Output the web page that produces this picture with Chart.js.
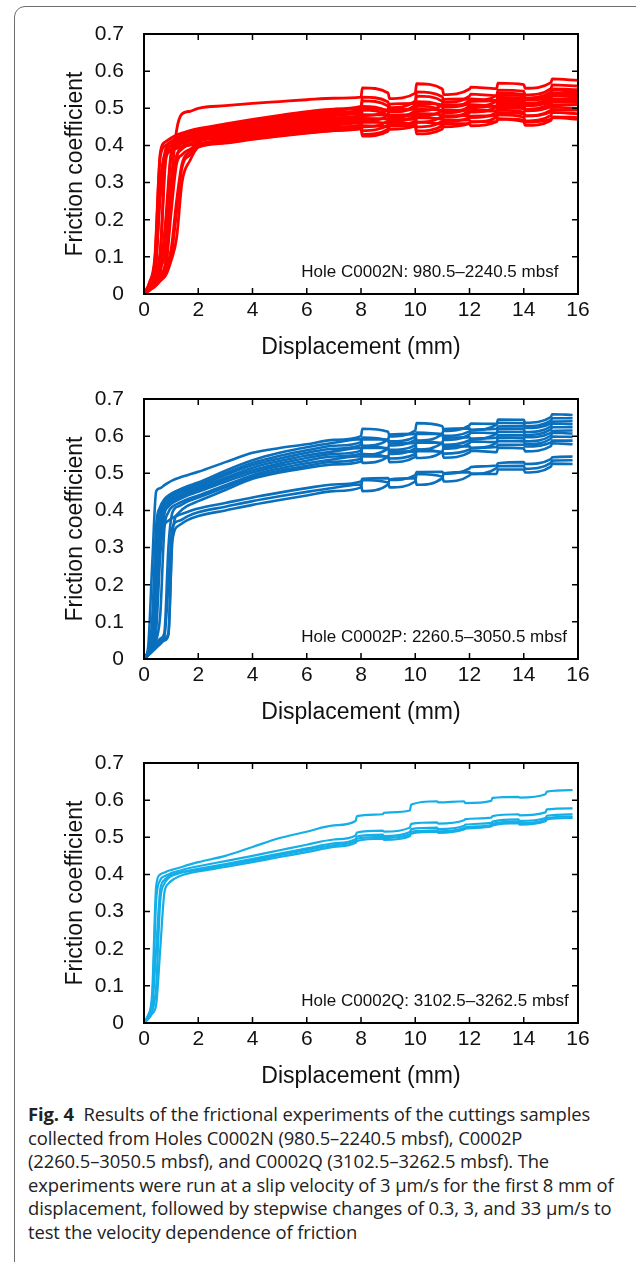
<!DOCTYPE html>
<html><head><meta charset="utf-8">
<script src="https://cdn.jsdelivr.net/npm/chart.js@4/dist/chart.umd.min.js"></script>
<style>
html,body{margin:0;padding:0;background:#fff;width:636px;height:1262px;overflow:hidden;position:relative;}
#frame{position:absolute;left:14px;top:6px;width:640px;height:1320px;border:1.5px solid #6e6e6e;border-radius:11px;box-sizing:border-box;}
.panel{position:absolute;left:0;width:636px;height:365px;}
#caption{position:absolute;left:28px;top:1102px;font-family:'Open Sans',sans-serif;font-size:18.4px;line-height:23.6px;color:#222;white-space:nowrap;letter-spacing:-0.1px;}
#caption b{font-weight:700;}
</style></head>
<body>
<div id="frame"></div>
<div class="panel" style="top:0px"><canvas id="cN" width="636" height="365"></canvas></div>
<div class="panel" style="top:365px"><canvas id="cP" width="636" height="365"></canvas></div>
<div class="panel" style="top:729px"><canvas id="cQ" width="636" height="365"></canvas></div>
<div id="caption"><b>Fig. 4</b>&nbsp; Results of the frictional experiments of the cuttings samples<br>collected from Holes C0002N (980.5–2240.5 mbsf), C0002P<br>(2260.5–3050.5 mbsf), and C0002Q (3102.5–3262.5 mbsf). The<br>experiments were run at a slip velocity of 3 μm/s for the first 8 mm of<br>displacement, followed by stepwise changes of 0.3, 3, and 33 μm/s to<br>test the velocity dependence of friction</div>
<script>
// ---------- axis ticks ----------
const xTickValues = [0, 2, 4, 6, 8, 10, 12, 14, 16];
const yTickValues = [0, 0.1, 0.2, 0.3, 0.4, 0.5, 0.6, 0.7];
const yTickLabels = ['0', '0.1', '0.2', '0.3', '0.4', '0.5', '0.6', '0.7'];

// ---------- Hole C0002N (red) ----------
const dispN = [0, 0.2, 0.4, 0.6, 0.8, 1.0, 1.2, 1.4, 1.7, 2.0, 3, 4, 5, 6, 7, 8, 8.05, 9, 9.05, 10, 10.05, 11, 11.05, 12, 12.05, 13, 13.05, 14, 14.05, 15, 15.05, 16];
const muN01 = [0, 0.02, 0.04, 0.07, 0.12, 0.30, 0.44, 0.485, 0.492, 0.50, 0.507, 0.513, 0.518, 0.523, 0.527, 0.530, 0.555, 0.541, 0.526, 0.541, 0.566, 0.552, 0.537, 0.552, 0.557, 0.553, 0.568, 0.564, 0.554, 0.569, 0.579, 0.575];
const muN02 = [0, 0.03, 0.10, 0.38, 0.41, 0.42, 0.428, 0.433, 0.44, 0.445, 0.458, 0.470, 0.481, 0.491, 0.498, 0.505, 0.530, 0.517, 0.502, 0.519, 0.544, 0.531, 0.516, 0.533, 0.538, 0.534, 0.549, 0.546, 0.536, 0.553, 0.563, 0.560];
const muN03 = [0, 0.02, 0.05, 0.30, 0.39, 0.41, 0.42, 0.427, 0.434, 0.44, 0.453, 0.465, 0.476, 0.486, 0.493, 0.500, 0.480, 0.496, 0.511, 0.513, 0.493, 0.509, 0.524, 0.525, 0.520, 0.534, 0.541, 0.538, 0.528, 0.544, 0.552, 0.550];
const muN04 = [0, 0.02, 0.04, 0.12, 0.37, 0.40, 0.415, 0.425, 0.433, 0.44, 0.452, 0.463, 0.473, 0.482, 0.489, 0.495, 0.520, 0.506, 0.491, 0.508, 0.533, 0.519, 0.504, 0.520, 0.525, 0.521, 0.536, 0.533, 0.523, 0.539, 0.549, 0.545];
const muN05 = [0, 0.03, 0.09, 0.37, 0.40, 0.41, 0.418, 0.424, 0.43, 0.435, 0.447, 0.458, 0.468, 0.477, 0.484, 0.490, 0.498, 0.496, 0.490, 0.503, 0.513, 0.509, 0.503, 0.515, 0.519, 0.521, 0.529, 0.528, 0.522, 0.534, 0.540, 0.540];
const muN06 = [0, 0.015, 0.035, 0.06, 0.20, 0.38, 0.405, 0.418, 0.428, 0.435, 0.446, 0.456, 0.465, 0.473, 0.480, 0.485, 0.465, 0.481, 0.496, 0.498, 0.478, 0.494, 0.509, 0.510, 0.505, 0.519, 0.526, 0.523, 0.513, 0.529, 0.537, 0.535];
const muN07 = [0, 0.02, 0.05, 0.28, 0.38, 0.40, 0.41, 0.417, 0.424, 0.43, 0.441, 0.451, 0.46, 0.468, 0.475, 0.480, 0.505, 0.491, 0.476, 0.493, 0.518, 0.504, 0.489, 0.505, 0.510, 0.506, 0.521, 0.518, 0.508, 0.524, 0.534, 0.530];
const muN08 = [0, 0.015, 0.03, 0.05, 0.08, 0.25, 0.37, 0.395, 0.415, 0.43, 0.440, 0.449, 0.457, 0.464, 0.470, 0.475, 0.483, 0.481, 0.475, 0.488, 0.498, 0.494, 0.488, 0.500, 0.504, 0.506, 0.514, 0.513, 0.507, 0.519, 0.525, 0.525];
const muN09 = [0, 0.02, 0.04, 0.10, 0.36, 0.39, 0.402, 0.41, 0.418, 0.425, 0.435, 0.444, 0.452, 0.459, 0.465, 0.470, 0.450, 0.466, 0.481, 0.483, 0.463, 0.479, 0.494, 0.495, 0.490, 0.504, 0.511, 0.508, 0.498, 0.514, 0.522, 0.520];
const muN10 = [0, 0.01, 0.025, 0.04, 0.06, 0.10, 0.22, 0.34, 0.375, 0.40, 0.415, 0.429, 0.442, 0.453, 0.462, 0.470, 0.495, 0.481, 0.466, 0.481, 0.506, 0.492, 0.477, 0.493, 0.498, 0.493, 0.508, 0.504, 0.494, 0.509, 0.519, 0.515];
const muN11 = [0, 0.015, 0.035, 0.06, 0.18, 0.37, 0.395, 0.405, 0.413, 0.42, 0.430, 0.439, 0.447, 0.454, 0.460, 0.465, 0.473, 0.471, 0.465, 0.476, 0.486, 0.482, 0.476, 0.488, 0.492, 0.493, 0.501, 0.499, 0.493, 0.504, 0.510, 0.510];
const muN12 = [0, 0.015, 0.03, 0.05, 0.09, 0.28, 0.37, 0.39, 0.405, 0.415, 0.425, 0.434, 0.442, 0.449, 0.455, 0.460, 0.440, 0.455, 0.470, 0.470, 0.450, 0.465, 0.480, 0.480, 0.475, 0.488, 0.495, 0.490, 0.480, 0.495, 0.503, 0.500];
const muN13 = [0, 0.01, 0.025, 0.045, 0.07, 0.12, 0.25, 0.35, 0.385, 0.41, 0.420, 0.429, 0.437, 0.444, 0.450, 0.455, 0.463, 0.460, 0.454, 0.465, 0.475, 0.470, 0.464, 0.475, 0.479, 0.480, 0.488, 0.485, 0.479, 0.490, 0.496, 0.495];
const muN14 = [0, 0.02, 0.05, 0.26, 0.37, 0.385, 0.392, 0.397, 0.401, 0.405, 0.415, 0.424, 0.432, 0.439, 0.445, 0.450, 0.430, 0.444, 0.459, 0.459, 0.439, 0.453, 0.468, 0.468, 0.463, 0.475, 0.482, 0.476, 0.466, 0.481, 0.489, 0.485];
const muN15 = [0, 0.012, 0.028, 0.045, 0.07, 0.22, 0.35, 0.375, 0.39, 0.40, 0.410, 0.419, 0.427, 0.434, 0.440, 0.445, 0.453, 0.449, 0.443, 0.453, 0.463, 0.456, 0.450, 0.460, 0.464, 0.464, 0.472, 0.468, 0.462, 0.471, 0.477, 0.475];
const muN16 = [0, 0.01, 0.02, 0.035, 0.05, 0.09, 0.15, 0.30, 0.36, 0.395, 0.406, 0.416, 0.425, 0.433, 0.440, 0.445, 0.425, 0.438, 0.453, 0.451, 0.431, 0.444, 0.459, 0.458, 0.453, 0.464, 0.471, 0.464, 0.454, 0.467, 0.475, 0.470];

// ---------- Hole C0002P (blue) ----------
const dispP = [0, 0.15, 0.3, 0.45, 0.6, 0.75, 0.9, 1.05, 1.3, 1.6, 2.0, 3, 4, 5, 6, 7, 8, 8.05, 9, 9.05, 10, 10.05, 11, 11.05, 12, 12.05, 13, 13.05, 14, 14.05, 15, 15.05, 15.8];
const muP01 = [0, 0.03, 0.25, 0.452, 0.46, 0.468, 0.475, 0.481, 0.488, 0.495, 0.504, 0.53, 0.555, 0.568, 0.578, 0.59, 0.600, 0.620, 0.612, 0.599, 0.615, 0.635, 0.627, 0.614, 0.629, 0.634, 0.633, 0.645, 0.644, 0.636, 0.651, 0.659, 0.657];
const muP02 = [0, 0.02, 0.10, 0.36, 0.41, 0.43, 0.44, 0.447, 0.456, 0.465, 0.475, 0.507, 0.535, 0.555, 0.57, 0.582, 0.592, 0.574, 0.591, 0.604, 0.606, 0.588, 0.606, 0.619, 0.621, 0.616, 0.631, 0.636, 0.635, 0.627, 0.642, 0.648, 0.648];
const muP03 = [0, 0.02, 0.08, 0.32, 0.40, 0.425, 0.435, 0.442, 0.451, 0.46, 0.47, 0.50, 0.528, 0.547, 0.562, 0.574, 0.584, 0.591, 0.591, 0.586, 0.598, 0.606, 0.606, 0.601, 0.613, 0.617, 0.620, 0.626, 0.627, 0.622, 0.634, 0.639, 0.640];
const muP04 = [0, 0.02, 0.06, 0.26, 0.39, 0.418, 0.428, 0.436, 0.446, 0.455, 0.465, 0.495, 0.522, 0.54, 0.555, 0.566, 0.576, 0.596, 0.588, 0.575, 0.590, 0.610, 0.603, 0.590, 0.605, 0.610, 0.608, 0.620, 0.619, 0.611, 0.626, 0.634, 0.632];
const muP05 = [0, 0.015, 0.05, 0.20, 0.37, 0.41, 0.422, 0.43, 0.44, 0.45, 0.46, 0.488, 0.515, 0.533, 0.548, 0.559, 0.568, 0.550, 0.567, 0.580, 0.582, 0.564, 0.582, 0.595, 0.597, 0.592, 0.607, 0.612, 0.611, 0.603, 0.618, 0.624, 0.624];
const muP06 = [0, 0.015, 0.04, 0.12, 0.34, 0.40, 0.415, 0.425, 0.435, 0.445, 0.455, 0.483, 0.508, 0.526, 0.541, 0.552, 0.561, 0.568, 0.568, 0.563, 0.575, 0.583, 0.582, 0.577, 0.589, 0.593, 0.596, 0.602, 0.602, 0.597, 0.609, 0.614, 0.615];
const muP07 = [0, 0.015, 0.035, 0.08, 0.28, 0.39, 0.41, 0.42, 0.43, 0.44, 0.45, 0.477, 0.502, 0.52, 0.534, 0.545, 0.553, 0.573, 0.565, 0.552, 0.567, 0.587, 0.579, 0.566, 0.581, 0.586, 0.584, 0.596, 0.594, 0.586, 0.601, 0.609, 0.607];
const muP08 = [0, 0.01, 0.03, 0.05, 0.12, 0.35, 0.395, 0.41, 0.42, 0.43, 0.44, 0.468, 0.495, 0.513, 0.527, 0.538, 0.546, 0.528, 0.545, 0.558, 0.559, 0.541, 0.558, 0.571, 0.573, 0.568, 0.582, 0.587, 0.586, 0.578, 0.593, 0.599, 0.598];
const muP09 = [0, 0.01, 0.025, 0.04, 0.055, 0.07, 0.30, 0.395, 0.412, 0.424, 0.435, 0.462, 0.49, 0.507, 0.52, 0.531, 0.539, 0.546, 0.545, 0.540, 0.552, 0.560, 0.558, 0.553, 0.564, 0.568, 0.571, 0.577, 0.577, 0.572, 0.583, 0.588, 0.588];
const muP10 = [0, 0.01, 0.02, 0.035, 0.045, 0.055, 0.07, 0.34, 0.395, 0.412, 0.425, 0.455, 0.485, 0.502, 0.514, 0.524, 0.532, 0.552, 0.543, 0.530, 0.544, 0.564, 0.555, 0.542, 0.556, 0.561, 0.557, 0.569, 0.567, 0.559, 0.573, 0.581, 0.578];
const muP11 = [0, 0.015, 0.04, 0.15, 0.30, 0.36, 0.372, 0.38, 0.388, 0.396, 0.405, 0.42, 0.435, 0.448, 0.46, 0.47, 0.478, 0.485, 0.487, 0.482, 0.495, 0.503, 0.504, 0.499, 0.513, 0.517, 0.521, 0.527, 0.530, 0.525, 0.538, 0.543, 0.545];
const muP12 = [0, 0.01, 0.025, 0.04, 0.05, 0.06, 0.20, 0.355, 0.372, 0.384, 0.395, 0.41, 0.425, 0.438, 0.45, 0.461, 0.470, 0.452, 0.470, 0.483, 0.487, 0.469, 0.487, 0.500, 0.503, 0.498, 0.514, 0.519, 0.520, 0.512, 0.528, 0.534, 0.535];
const muP13 = [0, 0.01, 0.02, 0.03, 0.04, 0.05, 0.065, 0.32, 0.36, 0.374, 0.385, 0.40, 0.415, 0.428, 0.44, 0.452, 0.462, 0.482, 0.475, 0.462, 0.478, 0.498, 0.491, 0.478, 0.494, 0.499, 0.498, 0.510, 0.510, 0.502, 0.518, 0.526, 0.525];

// ---------- Hole C0002Q (light blue) ----------
const dispQ = [0, 0.15, 0.3, 0.45, 0.6, 0.75, 0.9, 1.05, 1.3, 1.6, 2.0, 3, 4, 5, 6, 7, 7.8, 7.85, 8.8, 8.85, 9.8, 9.85, 10.8, 10.85, 11.8, 11.85, 12.8, 12.85, 13.8, 13.85, 14.8, 14.85, 15.8];
const muQ01 = [0, 0.02, 0.08, 0.37, 0.40, 0.405, 0.41, 0.413, 0.418, 0.425, 0.433, 0.45, 0.474, 0.498, 0.515, 0.532, 0.544, 0.557, 0.562, 0.566, 0.572, 0.588, 0.597, 0.594, 0.597, 0.592, 0.598, 0.606, 0.609, 0.607, 0.616, 0.623, 0.627];
const muQ02 = [0, 0.02, 0.06, 0.33, 0.385, 0.395, 0.40, 0.405, 0.41, 0.416, 0.422, 0.436, 0.45, 0.465, 0.48, 0.494, 0.505, 0.513, 0.518, 0.515, 0.526, 0.536, 0.54, 0.537, 0.546, 0.549, 0.553, 0.557, 0.562, 0.559, 0.567, 0.575, 0.578];
const muQ03 = [0, 0.015, 0.04, 0.20, 0.36, 0.385, 0.395, 0.40, 0.405, 0.41, 0.415, 0.428, 0.442, 0.456, 0.47, 0.484, 0.495, 0.502, 0.507, 0.503, 0.514, 0.522, 0.526, 0.522, 0.531, 0.534, 0.539, 0.542, 0.548, 0.544, 0.552, 0.558, 0.562];
const muQ04 = [0, 0.012, 0.03, 0.10, 0.33, 0.375, 0.39, 0.397, 0.403, 0.408, 0.412, 0.425, 0.438, 0.452, 0.466, 0.479, 0.49, 0.496, 0.501, 0.498, 0.508, 0.515, 0.519, 0.516, 0.525, 0.527, 0.533, 0.536, 0.542, 0.538, 0.547, 0.552, 0.556];
const muQ05 = [0, 0.01, 0.025, 0.05, 0.20, 0.35, 0.375, 0.385, 0.395, 0.402, 0.408, 0.42, 0.433, 0.447, 0.46, 0.474, 0.485, 0.49, 0.496, 0.493, 0.503, 0.51, 0.515, 0.512, 0.521, 0.523, 0.529, 0.532, 0.538, 0.534, 0.543, 0.548, 0.552];

const seriesN = [muN01, muN02, muN03, muN04, muN05, muN06, muN07, muN08, muN09, muN10, muN11, muN12, muN13, muN14, muN15, muN16];
const seriesP = [muP01, muP02, muP03, muP04, muP05, muP06, muP07, muP08, muP09, muP10, muP11, muP12, muP13];
const seriesQ = [muQ01, muQ02, muQ03, muQ04, muQ05];

const noteN = 'Hole C0002N: 980.5–2240.5 mbsf';
const noteP = 'Hole C0002P: 2260.5–3050.5 mbsf';
const noteQ = 'Hole C0002Q: 3102.5–3262.5 mbsf';

// ---------- drawing ----------
const FONT = '"Liberation Sans", Arial, sans-serif';

const framePlugin = {
  id: 'frame',
  afterDatasetsDraw(chart, args, opts) {
    const ctx = chart.ctx, a = chart.chartArea, x = chart.scales.x, y = chart.scales.y;
    ctx.save();
    ctx.strokeStyle = '#000';
    ctx.lineWidth = 1.5;
    const L = 6;
    xTickValues.forEach(v => {
      const px = x.getPixelForValue(v);
      if (px <= a.left + 1 || px >= a.right - 1) return;
      ctx.beginPath();
      ctx.moveTo(px, a.bottom); ctx.lineTo(px, a.bottom - L);
      ctx.moveTo(px, a.top); ctx.lineTo(px, a.top + L);
      ctx.stroke();
    });
    yTickValues.forEach(v => {
      const py = y.getPixelForValue(v);
      if (py <= a.top + 1 || py >= a.bottom - 1) return;
      ctx.beginPath();
      ctx.moveTo(a.left, py); ctx.lineTo(a.left + L, py);
      ctx.moveTo(a.right, py); ctx.lineTo(a.right - L, py);
      ctx.stroke();
    });
    ctx.lineWidth = 2;
    ctx.strokeRect(a.left, a.top, a.right - a.left, a.bottom - a.top);
    ctx.font = '17px ' + FONT;
    ctx.fillStyle = '#111';
    ctx.textAlign = 'left';
    ctx.textBaseline = 'alphabetic';
    ctx.fillText(opts.note, x.getPixelForValue(opts.noteX), y.getPixelForValue(opts.noteY));
    ctx.restore();
  }
};

function makePanel(id, disp, series, color, lw, note) {
  const datasets = series.map(vals => ({
    data: disp.map((d, i) => ({ x: d, y: vals[i] })),
    borderColor: color,
    borderWidth: lw,
    pointRadius: 0,
    fill: false,
    cubicInterpolationMode: 'monotone'
  }));
  new Chart(document.getElementById(id), {
    type: 'line',
    data: { datasets },
    plugins: [framePlugin],
    options: {
      responsive: false,
      animation: false,
      devicePixelRatio: 1,
      layout: { padding: { left: 62, top: 34, right: 58, bottom: 4 } },
      plugins: {
        legend: { display: false },
        tooltip: { enabled: false },
        frame: { note: note, noteX: 5.8, noteY: 0.046 }
      },
      scales: {
        x: {
          type: 'linear', min: 0, max: 16,
          grid: { display: false }, border: { display: false },
          afterBuildTicks: s => { s.ticks = xTickValues.map(v => ({ value: v })); },
          afterFit: s => { s.height = 67; },
          ticks: { padding: -4, color: '#111', font: { family: FONT, size: 21 }, maxRotation: 0,
                   callback: v => String(v) },
          title: { display: true, text: 'Displacement (mm)', color: '#111', padding: 0,
                   font: { family: FONT, size: 23 } }
        },
        y: {
          type: 'linear', min: 0, max: 0.7,
          grid: { display: false }, border: { display: false },
          afterBuildTicks: s => { s.ticks = yTickValues.map(v => ({ value: v })); },
          afterFit: s => { s.width = 82; },
          ticks: { padding: 12, color: '#111', font: { family: FONT, size: 21 },
                   callback: (v) => { const i = yTickValues.findIndex(t => Math.abs(t - v) < 1e-6); return i >= 0 ? yTickLabels[i] : ''; } },
          title: { display: true, text: 'Friction coefficient', color: '#111', padding: 0,
                   font: { family: FONT, size: 23 } }
        }
      }
    }
  });
}

makePanel('cN', dispN, seriesN, '#FF0000', 2.8, noteN);
makePanel('cP', dispP, seriesP, '#0A6FBD', 2.6, noteP);
makePanel('cQ', dispQ, seriesQ, '#14AEE8', 2.2, noteQ);
</script>
</body></html>
